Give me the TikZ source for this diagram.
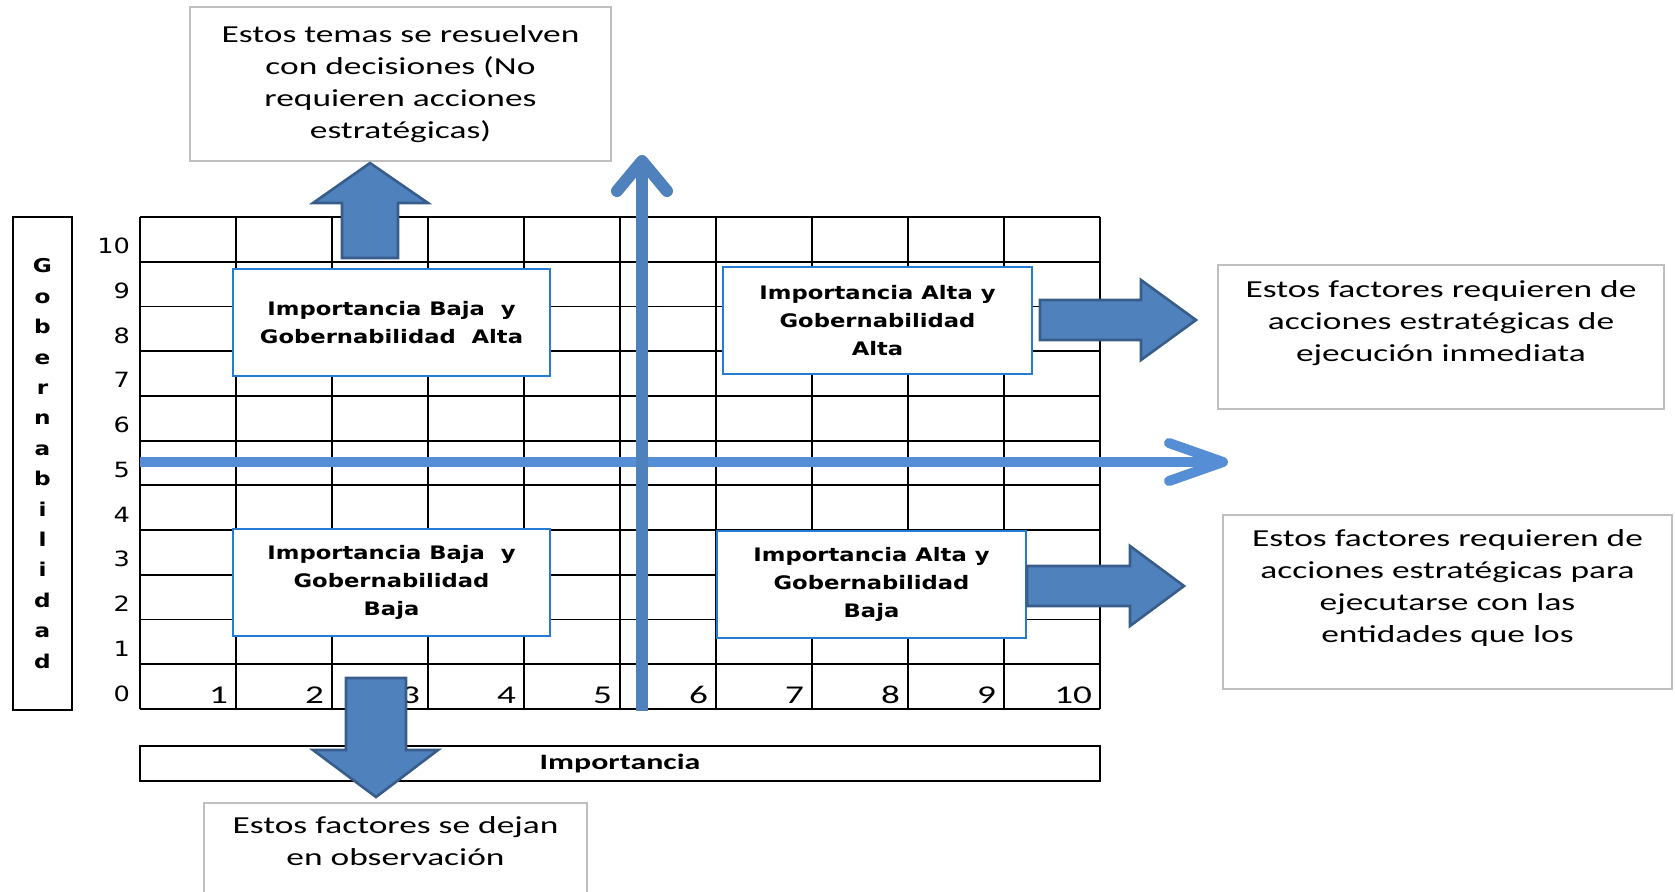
\documentclass[tikz,border=0pt]{standalone}
\usepackage{fontspec}
\setmainfont{Carlito}
\newfontfamily\calib[FakeStretch=1.45]{Carlito}
\newfontfamily\tahof[FakeStretch=1.22]{DejaVu Sans}
\usetikzlibrary{arrows.meta}
\definecolor{axish}{RGB}{85,142,213}
\definecolor{axisv}{RGB}{79,129,189}
\definecolor{barfill}{RGB}{79,129,189}
\definecolor{barline}{RGB}{56,93,138}
\definecolor{quadblue}{RGB}{38,124,210}
\definecolor{boxgray}{RGB}{191,191,191}

\begin{document}
\begin{tikzpicture}[x=0.5pt,y=-0.5pt,
  graybox/.style={draw=boxgray,line width=0.8pt,fill=white,inner sep=0pt,align=center,
    font=\calib\fontsize{12.2}{16}\selectfont},
  quadbox/.style={draw=quadblue,line width=1pt,fill=white,inner sep=0pt,align=center,
    minimum height=53.5pt,font=\tahof\bfseries\fontsize{9.3}{14}\selectfont},
  gridline/.style={line width=0.9pt},
  haxis/.style={draw=axish,line width=5pt,-{Straight Barb[length=27pt,width=19pt,round]}},
  vaxis/.style={draw=axisv,line width=6pt,-{Straight Barb[length=15pt,width=25pt,round]}},
  bigarrow/.style={fill=barfill,draw=barline,line width=1.3pt},
  xlab/.style={anchor=base east,font=\calib\fontsize{12.8}{14}\selectfont},
  ylab/.style={anchor=base east,font=\tahof\fontsize{10.5}{12}\selectfont}]
\useasboundingbox (0,0) rectangle (1675,891);

\node[graybox,minimum width=210.5pt,minimum height=76.75pt] (decis) at (400.5,84)
  {Estos temas se resuelven\\con decisiones (No\\requieren acciones\\estratégicas)};
\node[graybox,minimum width=223pt,minimum height=72pt] (inmed) at (1441,337)
  {Estos factores requieren de\\acciones estratégicas de\\ejecución inmediata\\\mbox{}};
\node[graybox,minimum width=224.5pt,minimum height=87pt] (entid) at (1447.5,602)
  {Estos factores requieren de\\acciones estratégicas para\\ejecutarse con las\\entidades que los\\\mbox{}};
\node[graybox,minimum width=191.5pt,minimum height=54pt] (observ) at (395.5,857)
  {Estos factores se dejan\\en observación\\\mbox{}};

\node[draw,line width=1pt,inner sep=0pt,minimum width=29.5pt,minimum height=246.5pt,align=center,
  font=\tahof\bfseries\fontsize{9.5}{15.2}\selectfont] (gober) at (42.5,463.5)
  {G\\o\\b\\e\\r\\n\\a\\b\\i\\l\\i\\d\\a\\d};
\node[draw,line width=1pt,inner sep=0pt,minimum width=480pt,minimum height=17.5pt,
  font=\calib\bfseries\fontsize{11}{13}\selectfont] (impo) at (620,763.5) {Importancia};

\foreach \c in {0,...,10}
  \draw[gridline] (140+\c*96,217) -- (140+\c*96,709);
\foreach \r in {0,...,11}
  \draw[gridline] (140,217+\r*44.727) -- (1100,217+\r*44.727);
\foreach \v in {0,...,10}
  \node[ylab] (y\v) at (137,701-\v*44.727) {\v};
\foreach \v in {1,...,10}
  \node[xlab] (x\v) at (139+\v*96,703) {\v};

\coordinate (hfoot) at (140,462);
\coordinate (htip) at (1228,462);
\coordinate (vfoot) at (642,711);
\coordinate (vtip) at (642,155);
\draw[haxis] (hfoot) -- (htip);
\draw[vaxis] (vfoot) -- (vtip);

\node[quadbox,minimum width=158.5pt] (bajaalta) at (391.5,322.5) {Importancia Baja~ y\\Gobernabilidad~ Alta};
\node[quadbox,minimum width=158.5pt] (bajabaja) at (391.5,582.5) {Importancia Baja~ y\\Gobernabilidad\\Baja};
\node[quadbox,minimum width=154.5pt] (altaalta) at (877.5,320.5) {Importancia Alta y\\Gobernabilidad\\Alta};
\node[quadbox,minimum width=154.5pt] (altabaja) at (871.5,584.5) {Importancia Alta y\\Gobernabilidad\\Baja};

\draw[bigarrow] (342,258) -- (342,203) -- (313,203) -- (370,163) -- (428,203) -- (398,203) -- (398,258) -- cycle;
\draw[bigarrow] (346,678) -- (406,678) -- (406,750) -- (438,750) -- (376,797) -- (313,750) -- (346,750) -- cycle;
\draw[bigarrow] (1040,300) -- (1141,300) -- (1141,280) -- (1196,320) -- (1141,360) -- (1141,340) -- (1040,340) -- cycle;
\draw[bigarrow] (1027,566) -- (1130,566) -- (1130,546) -- (1184,586) -- (1130,626) -- (1130,606) -- (1027,606) -- cycle;
\end{tikzpicture}
\end{document}
